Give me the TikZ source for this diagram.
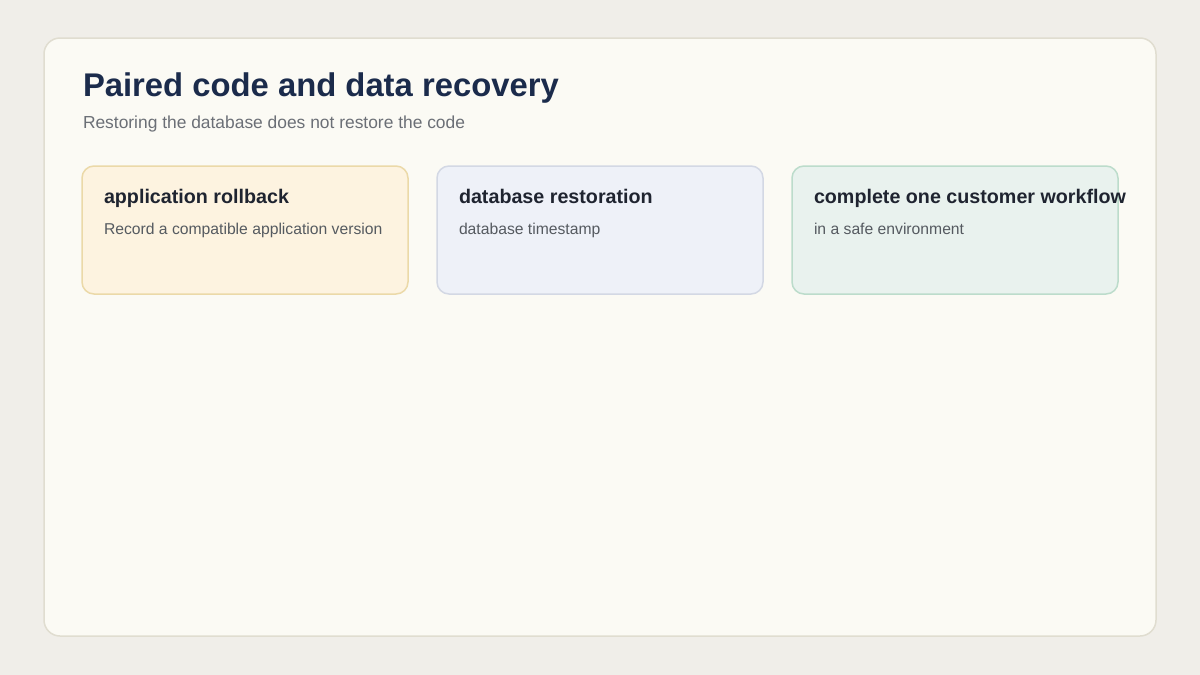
\documentclass[tikz,border=0pt]{standalone}
\usepackage{fontspec}
\setmainfont{Liberation Sans}
\begin{document}
\begin{tikzpicture}[x=1pt,y=-1pt,
  txt/.style={inner sep=0pt,outer sep=0pt,anchor=base west},
  card/.style={draw,line width=1.5pt,rounded corners=12pt},
  cardtitle/.style={txt,font=\bfseries\fontsize{19.7}{23}\selectfont,text=cardtext},
  cardsub/.style={txt,font=\fontsize{15.7}{18}\selectfont,text=cardsubtext}]
\definecolor{bg}{HTML}{F0EEE9}
\definecolor{panel}{HTML}{FBFAF4}
\definecolor{panelborder}{HTML}{E0DDD0}
\definecolor{titlecol}{HTML}{1B2B4B}
\definecolor{subcol}{HTML}{6B6F76}
\definecolor{cardtext}{HTML}{1F2430}
\definecolor{cardsubtext}{HTML}{555A60}
\definecolor{fillA}{HTML}{FDF3E0}
\definecolor{drawA}{HTML}{EBD9A8}
\definecolor{fillB}{HTML}{EEF1F8}
\definecolor{drawB}{HTML}{D3D8E4}
\definecolor{fillC}{HTML}{E9F2EE}
\definecolor{drawC}{HTML}{BCDCCB}
\fill[bg] (0,0) rectangle (1200,675);
\useasboundingbox (0,0) rectangle (1200,675);
\draw[fill=panel,draw=panelborder,line width=1.5pt,rounded corners=16pt] (44,38) rectangle (1156,636);
\node[txt,font=\bfseries\fontsize{32.8}{38}\selectfont,text=titlecol] (title) at (83,96) {Paired code and data recovery};
\node[txt,font=\fontsize{17.4}{20}\selectfont,text=subcol] (subtitle) at (83,128) {Restoring the database does not restore the code};
\draw[card,fill=fillA,draw=drawA] (82,166) rectangle (408,294);
\draw[card,fill=fillB,draw=drawB] (437,166) rectangle (763,294);
\draw[card,fill=fillC,draw=drawC] (792,166) rectangle (1118,294);
\node[cardtitle] (t1) at (104,203) {application rollback};
\node[cardsub] (s1) at (104,234) {Record a compatible application version};
\node[cardtitle] (t2) at (459,203) {database restoration};
\node[cardsub] (s2) at (459,234) {database timestamp};
\node[cardtitle] (t3) at (814,203) {complete one customer workflow};
\node[cardsub] (s3) at (814,234) {in a safe environment};
\end{tikzpicture}
\end{document}
